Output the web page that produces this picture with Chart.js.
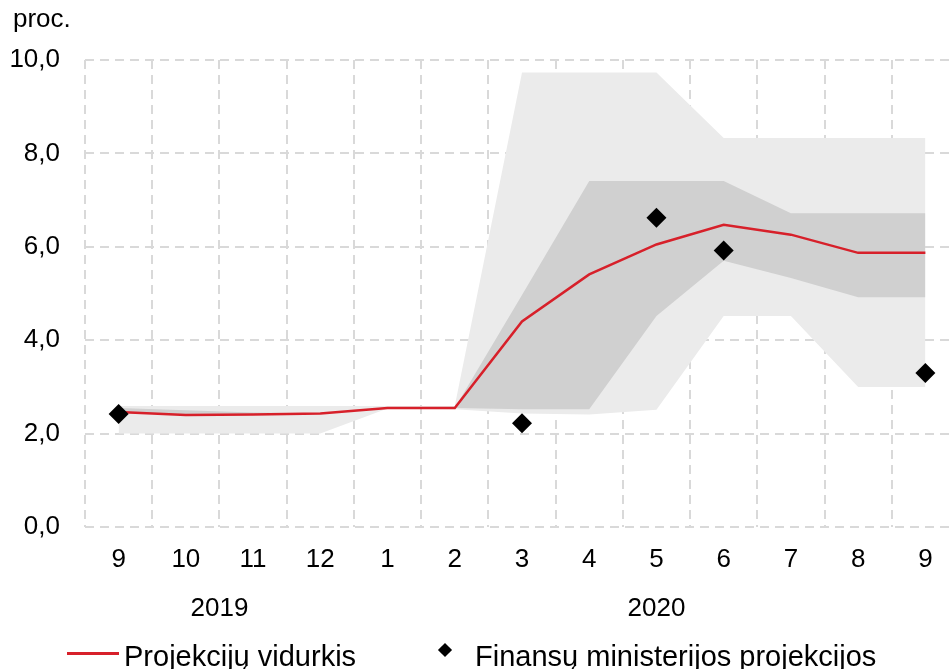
<!DOCTYPE html>
<html lang="lt">
<head>
<meta charset="utf-8">
<script src="https://cdn.jsdelivr.net/npm/chart.js@4.4.1/dist/chart.umd.min.js"></script>
<style>
  html, body { margin: 0; padding: 0; background: #fff; overflow: hidden; }
  #wrap { position: relative; width: 950px; height: 669px; overflow: hidden;
          font-family: "Liberation Sans", Arial, sans-serif; color: #000; }
  #holder { position: absolute; left: 0; top: 0; width: 969px; height: 669px; }
  #chart { display: block; }
  .unit { position: absolute; left: 13px; top: 3px; font-size: 26px; line-height: 30px; }
  .lg-text { position: absolute; top: 639px; font-size: 29px; line-height: 34px; white-space: nowrap; }
  .lg-line { position: absolute; left: 67px; top: 652px; width: 52px; height: 3px; background: #d7202a; }
  .lg-diamond { position: absolute; left: 440px; top: 645px; width: 10px; height: 10px;
                background: #000; transform: rotate(45deg); }
</style>
</head>
<body>
<div id="wrap">
  <div id="holder"><canvas id="chart" width="969" height="669"></canvas></div>
  <div class="unit">proc.</div>
  <div class="lg-line"></div>
  <div class="lg-text" style="left:124px">Projekcijų vidurkis</div>
  <div class="lg-diamond"></div>
  <div class="lg-text" style="left:475px">Finansų ministerijos projekcijos</div>
</div>
<script>
// months, 2019-09 .. 2020-09
const months = ["9", "10", "11", "12", "1", "2", "3", "4", "5", "6", "7", "8", "9"];
const years = [
    { label: "2019", from: 0, to: 3 },
    { label: "2020", from: 4, to: 12 },
];

// projections average (red line)
const meanLine = [2.46, 2.40, 2.41, 2.43, 2.55, 2.55, 4.40, 5.41, 6.05, 6.47, 6.26, 5.87, 5.87];
// finance ministry projections (diamonds)
const ministry = [2.42, null, null, null, null, null, 2.22, null, 6.62, 5.92, null, null, 3.30];

// inner range (darker band)
const innerHigh = [2.55, 2.50, 2.45, 2.43, 2.55, 2.55, 4.97, 7.41, 7.41, 7.41, 6.72, 6.72, 6.72];
const innerLow = [2.44, 2.40, 2.41, 2.43, 2.55, 2.55, 2.52, 2.52, 4.52, 5.70, 5.33, 4.92, 4.92];
// outer range (lighter band)
const outerHigh = [2.59, 2.59, 2.59, 2.59, 2.59, 2.59, 9.73, 9.73, 9.73, 8.33, 8.33, 8.33, 8.33];
const outerLow = [2.00, 2.00, 2.00, 2.00, 2.54, 2.52, 2.43, 2.41, 2.51, 4.52, 4.52, 3.00, 3.00];

const yTicks = { min: 0, max: 10, step: 2 };

const FONT = "'Liberation Sans', Arial, sans-serif";

// year labels under the month ticks
const yearLabels = {
    id: "yearLabels",
    afterDraw(chart) {
        const x = chart.scales.x;
        const ctx = chart.ctx;
        ctx.save();
        ctx.font = "26px " + FONT;
        ctx.fillStyle = "#000";
        ctx.textAlign = "center";
        ctx.textBaseline = "middle";
        years.forEach(function (y) {
            const mid = (x.getPixelForValue(y.from) + x.getPixelForValue(y.to)) / 2;
            ctx.fillText(y.label, mid, 609);
        });
        ctx.restore();
    },
};

function band(data, color, fill, order) {
    return {
        data: data,
        borderWidth: 0,
        borderColor: "rgba(0,0,0,0)",
        backgroundColor: color,
        pointRadius: 0,
        fill: fill,
        tension: 0,
        order: order,
    };
}

new Chart(document.getElementById("chart"), {
    type: "line",
    data: {
        labels: months,
        datasets: [
            {
                label: "Finansų ministerijos projekcijos",
                data: ministry,
                showLine: false,
                pointStyle: "rectRot",
                pointRadius: 10,
                pointBackgroundColor: "#000",
                pointBorderColor: "#000",
                pointBorderWidth: 0,
                order: 0,
            },
            {
                label: "Projekcijų vidurkis",
                data: meanLine,
                borderColor: "#d7202a",
                borderWidth: 2.5,
                pointRadius: 0,
                tension: 0,
                fill: false,
                order: 1,
            },
            band(innerHigh, "#d0d0d0", "+1", 2),
            band(innerLow, "rgba(0,0,0,0)", false, 3),
            band(outerHigh, "#ebebeb", "+1", 4),
            band(outerLow, "rgba(0,0,0,0)", false, 5),
        ],
    },
    options: {
        responsive: false,
        animation: false,
        devicePixelRatio: 1,
        // canvas is wider than the picture: the plot runs past its right edge
        layout: { padding: { left: 0, top: 60, right: 0, bottom: 0 } },
        plugins: {
            legend: { display: false },
            tooltip: { enabled: false },
        },
        scales: {
            x: {
                offset: true,
                grid: { offset: true, color: "#d9d9d9", lineWidth: 2, drawTicks: false },
                border: { display: false, dash: [9, 6] },
                ticks: {
                    color: "#000",
                    font: { family: FONT, size: 26 },
                    padding: 17,
                    maxRotation: 0,
                    autoSkip: false,
                },
                afterFit(scale) { scale.height = 142; },
            },
            y: {
                min: yTicks.min,
                max: yTicks.max,
                grid: { color: "#d9d9d9", lineWidth: 2, drawTicks: false },
                border: { display: false, dash: [9, 6] },
                ticks: {
                    stepSize: yTicks.step,
                    color: "#000",
                    font: { family: FONT, size: 26 },
                    padding: 25,
                    callback: function (v) { return v.toFixed(1).replace(".", ","); },
                },
                afterFit(scale) { scale.width = 85; },
            },
        },
    },
    plugins: [yearLabels],
});
</script>
</body>
</html>
